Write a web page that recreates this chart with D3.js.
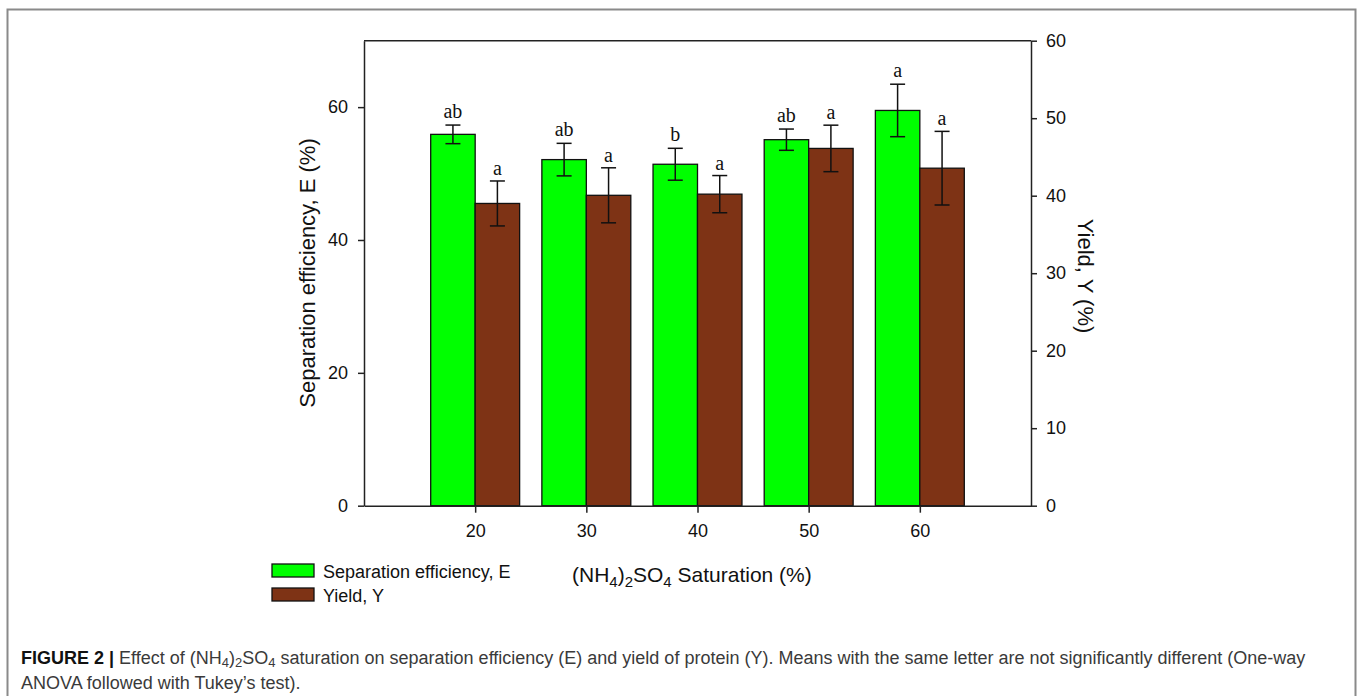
<!DOCTYPE html>
<html>
<head>
<meta charset="utf-8">
<script src="https://cdn.jsdelivr.net/npm/d3@7"></script>
<style>
  html, body { margin: 0; padding: 0; background: #fff; }
  svg { display: block; }
</style>
</head>
<body>
<svg id="chart" width="1358" height="696"></svg>
<script>
// ---- Data ----
const categories = [20, 30, 40, 50, 60];              // (NH4)2SO4 saturation, %
const efficiency = [55.9, 52.1, 51.4, 55.1, 59.5];    // Separation efficiency E (%) – left axis
const efficiencyErr = [1.4, 2.45, 2.4, 1.6, 3.95];
const yieldVals = [39.0, 40.05, 40.2, 46.1, 43.55];   // Yield Y (%) – right axis
const yieldErr = [2.9, 3.55, 2.4, 3.0, 4.75];
const effLetters = ["ab", "ab", "b", "ab", "a"];
const yieldLetters = ["a", "a", "a", "a", "a"];
const leftTicks = [0, 20, 40, 60];
const rightTicks = [0, 10, 20, 30, 40, 50, 60];
const xTicks = [20, 30, 40, 50, 60];

(function () {
const sans = "'Liberation Sans', Arial, Helvetica, sans-serif";
const serif = "'Liberation Serif', 'Times New Roman', serif";
const green = "#00ff00";
const brown = "#7e3315";
const axisCol = "#222";

const svg = d3.select("#chart");

// outer figure border
svg.append("path")
  .attr("d", "M7.5,700 L7.5,9.5 L1355.5,9.5 L1355.5,700")
  .attr("fill", "none").attr("stroke", "#8a8a8a").attr("stroke-width", 2);

const pLeft = 364, pRight = 1031, pTop = 40.7, pBottom = 505.7;
const x = d3.scaleLinear().domain([10, 70]).range([pLeft, pRight]);
const yL = d3.scaleLinear().domain([0, 70]).range([pBottom, pTop]);
const yR = d3.scaleLinear().domain([0, 60]).range([pBottom, pTop]);
const bw = x(14) - x(10);

const g = svg.append("g");

// bars: efficiency (left) and yield (right)
g.selectAll("rect.eff").data(categories).join("rect")
  .attr("class", "eff")
  .attr("x", d => x(d) - bw).attr("width", bw)
  .attr("y", (d, i) => yL(efficiency[i])).attr("height", (d, i) => pBottom - yL(efficiency[i]))
  .attr("fill", green).attr("stroke", "#111").attr("stroke-width", 1.3);

g.selectAll("rect.yld").data(categories).join("rect")
  .attr("class", "yld")
  .attr("x", d => x(d)).attr("width", bw)
  .attr("y", (d, i) => yR(yieldVals[i])).attr("height", (d, i) => pBottom - yR(yieldVals[i]))
  .attr("fill", brown).attr("stroke", "#111").attr("stroke-width", 1.3);

// error bars
function errBars(cls, vals, errs, scale, offset) {
  const cap = 7.5;
  const eg = g.selectAll("g." + cls).data(categories).join("g").attr("class", cls)
    .attr("stroke", "#111").attr("stroke-width", 1.5);
  eg.append("line")
    .attr("x1", d => x(d) + offset).attr("x2", d => x(d) + offset)
    .attr("y1", (d, i) => scale(vals[i] + errs[i])).attr("y2", (d, i) => scale(vals[i] - errs[i]));
  eg.append("line")
    .attr("x1", d => x(d) + offset - cap).attr("x2", d => x(d) + offset + cap)
    .attr("y1", (d, i) => scale(vals[i] + errs[i])).attr("y2", (d, i) => scale(vals[i] + errs[i]));
  eg.append("line")
    .attr("x1", d => x(d) + offset - cap).attr("x2", d => x(d) + offset + cap)
    .attr("y1", (d, i) => scale(vals[i] - errs[i])).attr("y2", (d, i) => scale(vals[i] - errs[i]));
}
errBars("errE", efficiency, efficiencyErr, yL, -bw / 2);
errBars("errY", yieldVals, yieldErr, yR, bw / 2);

// significance letters
g.selectAll("text.letE").data(categories).join("text")
  .attr("class", "letE")
  .attr("x", d => x(d) - bw / 2).attr("y", (d, i) => yL(efficiency[i] + efficiencyErr[i]) - 7)
  .attr("text-anchor", "middle").attr("font-family", serif).attr("font-size", 20).attr("fill", "#111")
  .text((d, i) => effLetters[i]);
g.selectAll("text.letY").data(categories).join("text")
  .attr("class", "letY")
  .attr("x", d => x(d) + bw / 2).attr("y", (d, i) => yR(yieldVals[i] + yieldErr[i]) - 6)
  .attr("text-anchor", "middle").attr("font-family", serif).attr("font-size", 20).attr("fill", "#111")
  .text((d, i) => yieldLetters[i]);

// top frame line
g.append("line").attr("x1", pLeft).attr("x2", pRight).attr("y1", pTop).attr("y2", pTop)
  .attr("stroke", axisCol).attr("stroke-width", 1.5);

function styleAxis(sel) {
  sel.select(".domain").attr("stroke", axisCol).attr("stroke-width", 1.5);
  sel.selectAll(".tick line").attr("stroke", axisCol).attr("stroke-width", 1.5);
  sel.selectAll(".tick text").attr("font-family", sans).attr("font-size", 18).attr("fill", "#111");
}

const axL = g.append("g").attr("transform", `translate(${pLeft},0)`)
  .call(d3.axisLeft(yL).tickValues(leftTicks).tickSize(6).tickSizeOuter(0).tickPadding(10).tickFormat(d3.format("d")));
styleAxis(axL);
const axR = g.append("g").attr("transform", `translate(${pRight},0)`)
  .call(d3.axisRight(yR).tickValues(rightTicks).tickSize(6).tickSizeOuter(0).tickPadding(9).tickFormat(d3.format("d")));
styleAxis(axR);
const axB = g.append("g").attr("transform", `translate(0,${pBottom})`)
  .call(d3.axisBottom(x).tickValues(xTicks).tickSize(7).tickSizeOuter(0).tickPadding(12).tickFormat(d3.format("d")));
styleAxis(axB);

// axis titles
svg.append("text")
  .attr("transform", "translate(315,273) rotate(-90)")
  .attr("text-anchor", "middle").attr("font-family", sans).attr("font-size", 22).attr("fill", "#111")
  .text("Separation efficiency, E (%)");
svg.append("text")
  .attr("transform", "translate(1078,276) rotate(90)")
  .attr("text-anchor", "middle").attr("font-family", sans).attr("font-size", 22).attr("fill", "#111")
  .text("Yield, Y (%)");

const xt = svg.append("text").attr("x", 572).attr("y", 582)
  .attr("font-family", sans).attr("font-size", 21).attr("fill", "#111");
xt.append("tspan").text("(NH");
xt.append("tspan").attr("font-size", 15).attr("dy", 5).text("4");
xt.append("tspan").attr("dy", -5).text(")");
xt.append("tspan").attr("font-size", 15).attr("dy", 5).text("2");
xt.append("tspan").attr("dy", -5).text("SO");
xt.append("tspan").attr("font-size", 15).attr("dy", 5).text("4");
xt.append("tspan").attr("dy", -5).text(" Saturation (%)");

// legend
const legendItems = [
  { label: "Separation efficiency, E", color: green },
  { label: "Yield, Y", color: brown }
];
const lg = svg.selectAll("g.leg").data(legendItems).join("g").attr("class", "leg")
  .attr("transform", (d, i) => `translate(272,${564 + i * 24})`);
lg.append("rect").attr("width", 42).attr("height", 13)
  .attr("fill", d => d.color).attr("stroke", "#111").attr("stroke-width", 1.3);
lg.append("text").attr("x", 51).attr("y", 13.5)
  .attr("font-family", sans).attr("font-size", 18).attr("fill", "#111")
  .text(d => d.label);

// caption
const capSize = 18, subSize = 13;
const cap1 = svg.append("text").attr("x", 21).attr("y", 664)
  .attr("font-family", sans).attr("font-size", capSize).attr("fill", "#3a3a3a");
cap1.append("tspan").attr("font-weight", "bold").attr("fill", "#111").text("FIGURE 2 | ");
cap1.append("tspan").text("Effect of (NH");
cap1.append("tspan").attr("font-size", subSize).attr("dy", 3).text("4");
cap1.append("tspan").attr("dy", -3).text(")");
cap1.append("tspan").attr("font-size", subSize).attr("dy", 3).text("2");
cap1.append("tspan").attr("dy", -3).text("SO");
cap1.append("tspan").attr("font-size", subSize).attr("dy", 3).text("4");
cap1.append("tspan").attr("dy", -3).text(" saturation on separation efficiency (E) and yield of protein (Y). Means with the same letter are not significantly different (One-way");
svg.append("text").attr("x", 21).attr("y", 689)
  .attr("font-family", sans).attr("font-size", capSize).attr("fill", "#3a3a3a")
  .text("ANOVA followed with Tukey\u2019s test).");
})();
</script>
</body>
</html>
